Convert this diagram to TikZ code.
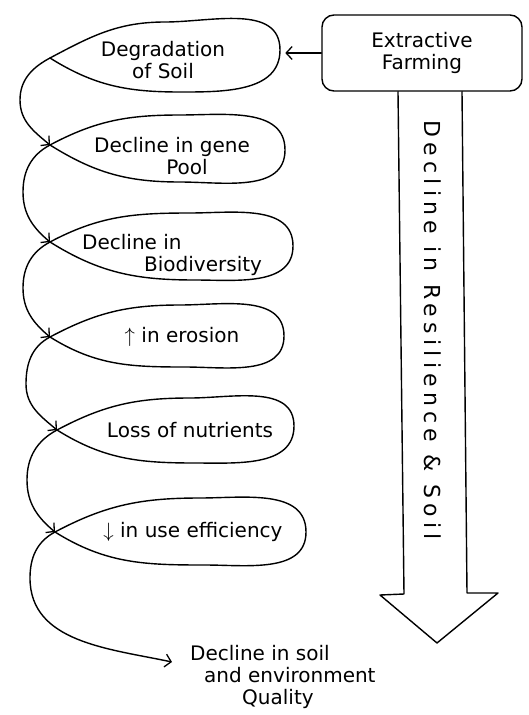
\documentclass[tikz,border=0pt]{standalone}
\usepackage{fontspec}
\setmainfont{DejaVu Sans}
\usetikzlibrary{arrows.meta,calc}
\tikzset{
  ink/.style={line width=1.4pt, line join=round, line cap=round},
  barb/.style={ink, -{Straight Barb[length=6pt,width=13pt,line width=1.3pt]}},
  lbl/.style={font=\fontsize{20}{22}\selectfont, inner sep=0pt, align=center},
}
\newcommand{\mylobe}[4]{% crossing, right end, top point, bottom point
  \draw[ink] (#1) to[out=-32,in=180] (#4) to[out=0,in=-90] (#2) to[out=90,in=0] (#3) to[out=180,in=28] (#1);
}
\begin{document}
\begin{tikzpicture}[x=1pt,y=1pt]
\path[use as bounding box] (0,0) rectangle (528,-715);

% crossing points, right ends, tops, bottoms
\coordinate (c1) at (50,-58);  \coordinate (r1) at (280,-50);  \coordinate (tp1) at (165,-22);  \coordinate (bt1) at (180,-92);
\coordinate (c2) at (50,-145); \coordinate (r2) at (285,-150); \coordinate (tp2) at (180,-115); \coordinate (bt2) at (180,-182);
\coordinate (c3) at (50,-242); \coordinate (r3) at (293,-246); \coordinate (tp3) at (190,-213); \coordinate (bt3) at (195,-280);
\coordinate (c4) at (50,-337); \coordinate (r4) at (284,-336); \coordinate (tp4) at (180,-305); \coordinate (bt4) at (185,-367);
\coordinate (c5) at (57,-430); \coordinate (r5) at (294,-426); \coordinate (tp5) at (190,-398); \coordinate (bt5) at (195,-463);
\coordinate (c6) at (55,-532); \coordinate (r6) at (306,-532); \coordinate (tp6) at (200,-498); \coordinate (bt6) at (205,-565);

\mylobe{c1}{r1}{tp1}{bt1}
\mylobe{c2}{r2}{tp2}{bt2}
\mylobe{c3}{r3}{tp3}{bt3}
\mylobe{c4}{r4}{tp4}{bt4}
\mylobe{c5}{r5}{tp5}{bt5}
\mylobe{c6}{r6}{tp6}{bt6}

% texts inside the loops
\node[lbl] (t1) at (163,-60) {Degradation\\of Soil};
\node[lbl] (t2) at (172,-156) {Decline in gene\\\hspace{30pt}Pool};
\node[lbl, align=left, anchor=west] (t3) at (82,-255) {Decline in\\\hspace{62pt}Biodiversity};
\node[lbl] (t4) at (182,-337) {$\uparrow$ in erosion};
\node[lbl] (t5) at (190,-430) {Loss of nutrients};
\node[lbl] (t6) at (193,-532) {$\downarrow$ in use efficiency};

% connectors on the left
\draw[barb] (c1) to[out=208,in=90] (20,-100) to[out=-90,in=140] (c2);
\draw[barb] (c2) to[out=208,in=90] (23,-192) to[out=-90,in=140] (c3);
\draw[barb] (c3) to[out=208,in=90] (23,-288) to[out=-90,in=140] (c4);
\draw[barb] (c4) to[out=208,in=90] (26,-384) to[out=-90,in=140] (c5);
\draw[barb] (c5) to[out=208,in=90] (27,-480) to[out=-90,in=140] (c6);

% final outcome
\node[lbl, align=left, anchor=north west] (fin) at (190,-645) {Decline in soil\\\hspace{14pt}and environment\\\hspace{52pt}Quality};
\coordinate (fe) at (172,-662);
\draw[barb] (c6) to[out=208,in=90] (30,-578) to[out=-90,in=168] (fe);

% extractive farming box
\node[ink, draw, rounded corners=12pt, minimum width=200pt, minimum height=76pt, lbl] (box) at (422,-53) {Extractive\\Farming};
\draw[barb] (box.west) -- ++(-36,0);

% big downward arrow
\draw[ink] ($(box.south)+(-24,0)$) -- (404,-594) -- (380,-595) -- (437,-643) -- (498,-593) -- (467,-593) -- ($(box.south)+(40,0)$);
\node[lbl, rotate=-90, font=\fontsize{22}{24}\selectfont\addfontfeature{LetterSpace=24}] (res) at (433,-330) {Decline in Resilience \& Soil};
\end{tikzpicture}
\end{document}
